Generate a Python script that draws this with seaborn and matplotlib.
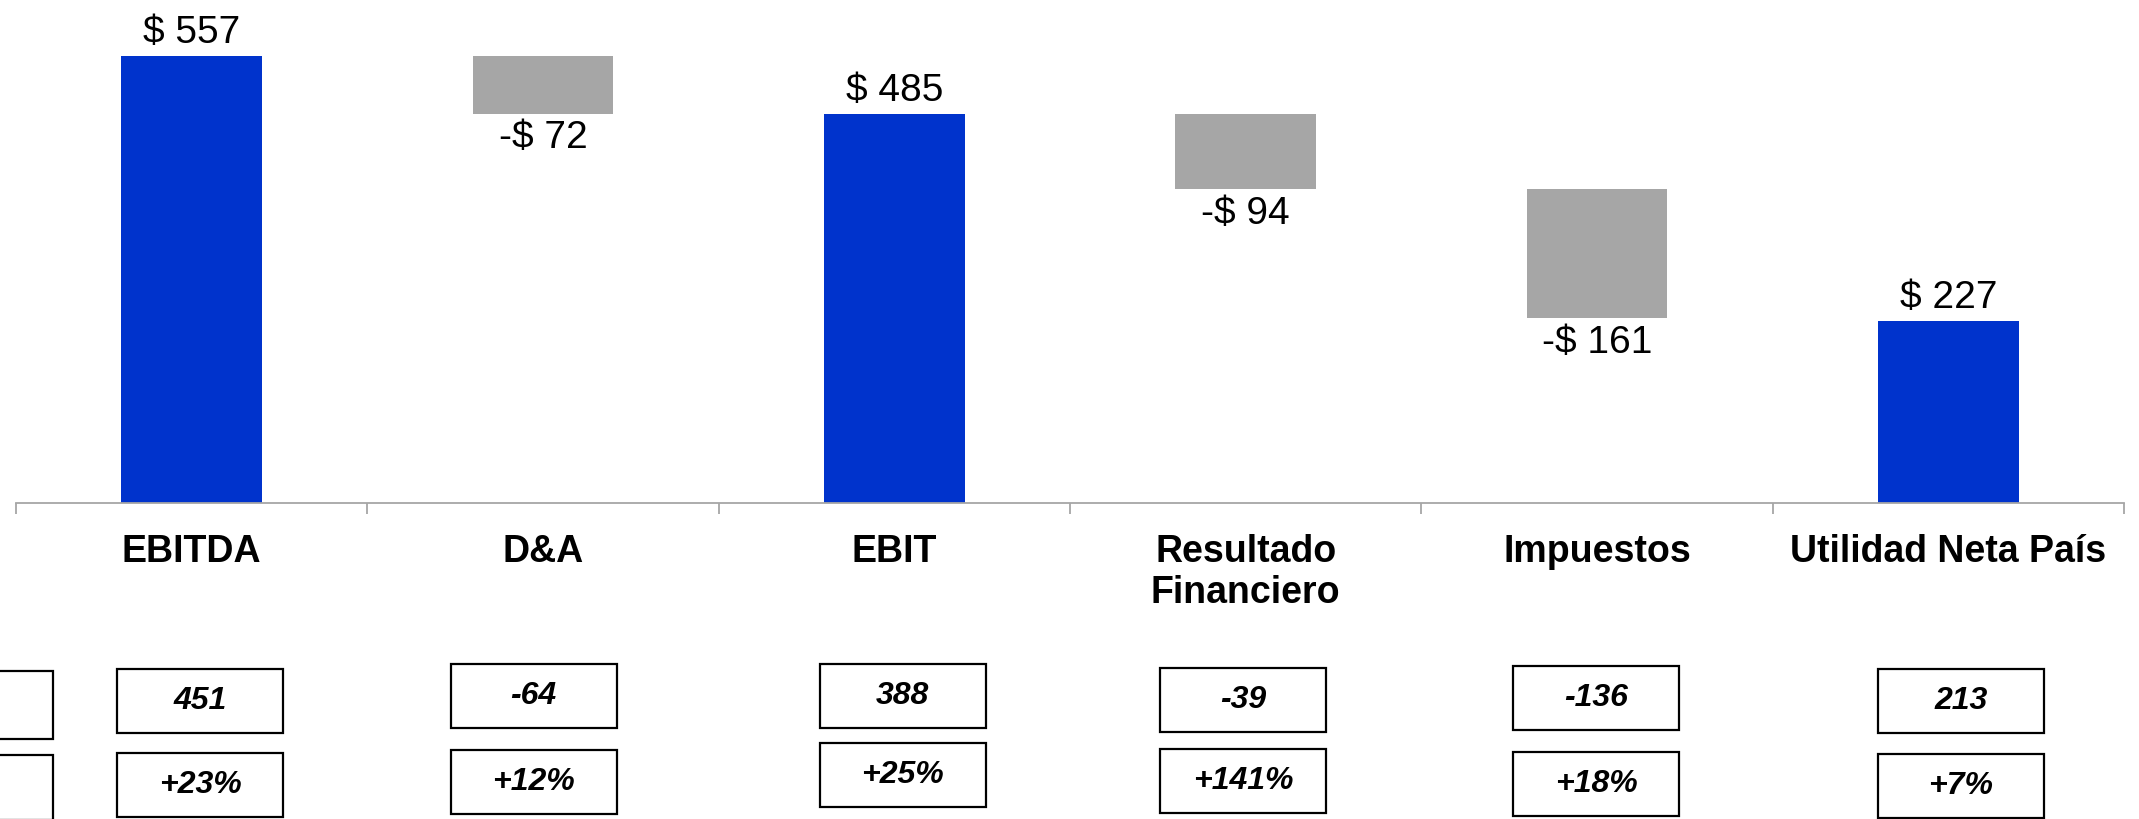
import matplotlib
matplotlib.use("Agg")
import matplotlib.pyplot as plt
import seaborn as sns
import pandas as pd
import numpy as np
from matplotlib.patches import Rectangle
from matplotlib.transforms import blended_transform_factory

# ---------------- data ----------------
categories = ["EBITDA", "D&A", "EBIT", "Resultado\nFinanciero", "Impuestos", "Utilidad Neta País"]
values = [557, -72, 485, -94, -161, 227]
is_total = [True, False, True, False, False, True]
value_labels = ["$ 557", "-$ 72", "$ 485", "-$ 94", "-$ 161", "$ 227"]
prior_values = ["451", "-64", "388", "-39", "-136", "213"]
growth = ["+23%", "+12%", "+25%", "+141%", "+18%", "+7%"]

# ---------------- layout ----------------
W, H, DPI = 2139, 819, 100
BLUE = "#0033CC"
GRAY = "#A6A6A6"
AX_LEFT, AX_RIGHT, AX_BASE = 16, 2124, 503
PX_PER_UNIT = 0.803
box_dx = [0.024, -0.027, 0.024, -0.007, -0.003, 0.036]      # box centre offsets (category units)
row1_y = [701, 696, 696, 700, 698, 701]                       # box centres, px from top
row2_y = [785, 782, 775, 781, 784, 786]
BOX_W_PX, BOX_H_PX = 166, 64

# waterfall geometry from the values
bottoms, heights = [], []
running = 0
for v, t in zip(values, is_total):
    if t:
        bottoms.append(0)
        heights.append(v)
        running = v
    else:
        running += v
        bottoms.append(running)
        heights.append(-v)

df = pd.DataFrame({
    "cat": categories,
    "height": heights,
    "kind": ["Total" if t else "Delta" for t in is_total],
})

sns.set_style("white")
plt.rcParams["font.family"] = ["Liberation Sans", "DejaVu Sans"]
plt.rcParams["text.color"] = "black"
plt.rcParams["xtick.labelcolor"] = "black"

fig = plt.figure(figsize=(W / DPI, H / DPI), dpi=DPI)
ax = fig.add_axes([AX_LEFT / W, 1 - AX_BASE / H, (AX_RIGHT - AX_LEFT) / W, AX_BASE / H])

sns.barplot(data=df, x="cat", y="height", hue="kind",
            palette={"Total": BLUE, "Delta": GRAY}, dodge=False,
            width=0.4, saturation=1, legend=False, ax=ax, order=categories)

# float the delta bars
for p in ax.patches:
    idx = int(round(p.get_x() + p.get_width() / 2))
    p.set_y(bottoms[idx])
    p.set_linewidth(0)

ax.set_xlim(-0.5, len(categories) - 0.5)
ax.set_ylim(0, AX_BASE / PX_PER_UNIT)
ax.set_yticks([])
ax.set_xlabel("")
ax.set_ylabel("")
for s in ["top", "right", "left"]:
    ax.spines[s].set_visible(False)
ax.spines["bottom"].set_color(GRAY)
ax.spines["bottom"].set_linewidth(1.3)

ax.set_xticks(range(len(categories)))
ax.set_xticklabels(categories, fontsize=27, fontweight="bold", linespacing=1.2, color="black")
ax.set_xticks(np.arange(-0.5, len(categories), 1.0), minor=True)
ax.tick_params(axis="x", which="major", length=0, pad=22, labelcolor="black")
ax.tick_params(axis="x", which="minor", bottom=True, length=8, width=1.3, color=GRAY)

# value labels
for i, (lab, b, h, t) in enumerate(zip(value_labels, bottoms, heights, is_total)):
    if t:
        ax.annotate(lab, xy=(i, b + h), xytext=(0, 9), textcoords="offset points",
                    ha="center", va="baseline", fontsize=28, color="black")
    else:
        ax.annotate(lab, xy=(i, b), xytext=(0, -25), textcoords="offset points",
                    ha="center", va="baseline", fontsize=28, color="black")

# comparison boxes
trans = blended_transform_factory(ax.transData, fig.transFigure)
bw = BOX_W_PX / ((AX_RIGHT - AX_LEFT) / len(categories))
bh = BOX_H_PX / H
for i in range(len(categories)):
    xc = i + box_dx[i]
    for yc, txt in ((row1_y[i], prior_values[i]), (row2_y[i], growth[i])):
        yf = 1 - yc / H
        fig.add_artist(Rectangle((xc - bw / 2, yf - bh / 2), bw, bh, transform=trans,
                                 fill=False, edgecolor="black", linewidth=1.6, clip_on=False))
        fig.text(xc, yf, txt, transform=trans, ha="center", va="center",
                 fontsize=23, fontweight="bold", fontstyle="italic", color="black")

# empty boxes cut by the left edge
for top, bot in ((671, 739), (755, 820)):
    fig.add_artist(Rectangle(((53 - BOX_W_PX) / W, 1 - bot / H), BOX_W_PX / W, (bot - top) / H,
                             transform=fig.transFigure, fill=False, edgecolor="black",
                             linewidth=1.6, clip_on=False))

fig.savefig("out.png", dpi=DPI, facecolor="white")
